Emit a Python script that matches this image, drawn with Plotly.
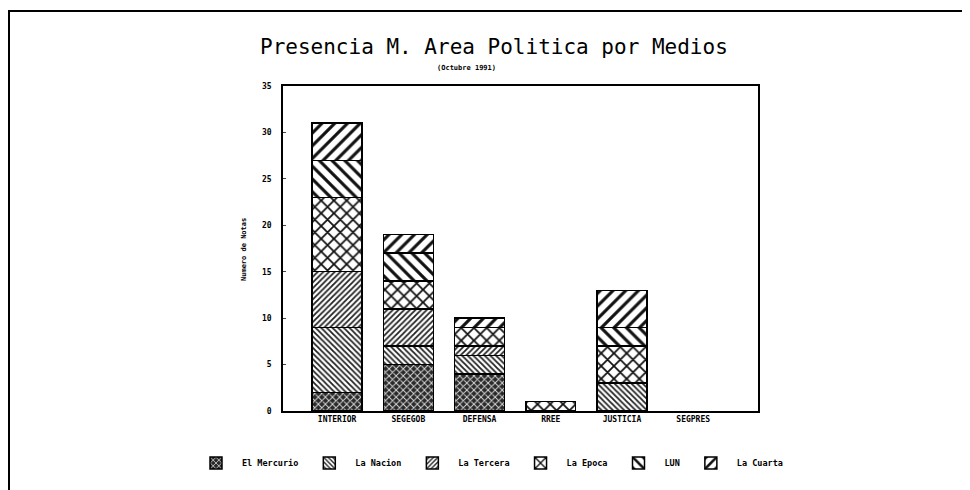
import plotly.graph_objects as go

categories = ["INTERIOR", "SEGEGOB", "DEFENSA", "RREE", "JUSTICIA", "SEGPRES"]
series_names = ["El Mercurio", "La Nacion", "La Tercera", "La Epoca", "LUN", "La Cuarta"]
el_mercurio = [2, 5, 4, 0, 0, 0]
la_nacion = [7, 2, 2, 0, 3, 0]
la_tercera = [6, 4, 1, 0, 0, 0]
la_epoca = [8, 3, 2, 1, 4, 0]
lun = [4, 3, 0, 0, 2, 0]
la_cuarta = [4, 2, 1, 0, 4, 0]
y_ticks = [0, 5, 10, 15, 20, 25, 30, 35]

values = [el_mercurio, la_nacion, la_tercera, la_epoca, lun, la_cuarta]
patterns = [
    dict(shape="x", size=5, solidity=0.35, fgcolor="#d8d8d8", bgcolor="#2a2a2a", fillmode="replace"),
    dict(shape="\\", size=4, solidity=0.45, fgcolor="#222", bgcolor="white", fillmode="replace"),
    dict(shape="/", size=4, solidity=0.45, fgcolor="#222", bgcolor="white", fillmode="replace"),
    dict(shape="x", size=9, solidity=0.35, fgcolor="#111", bgcolor="white", fillmode="replace"),
    dict(shape="\\", size=9, solidity=0.35, fgcolor="#111", bgcolor="white", fillmode="replace"),
    dict(shape="/", size=9, solidity=0.35, fgcolor="#111", bgcolor="white", fillmode="replace"),
]

FONT = "DejaVu Sans Mono"
OFF = 8  # page body margin
fig = go.Figure()
for name, vals, pat in zip(series_names, values, patterns):
    fig.add_trace(go.Bar(
        x=categories, y=[v if v else None for v in vals], name=name, width=0.7,
        marker=dict(color="white", line=dict(color="black", width=1.5), pattern=pat),
    ))

FW, FH = 962, 482
L, R, T, B = 283 - OFF, 758 - OFF, 86 - OFF, 411 - OFF
W, H = R - L, B - T

def px(x):
    return (x - OFF - L) / W

def py(y):
    return (B - (y - OFF)) / H

fig.update_layout(
    barmode="stack",
    width=FW, height=FH,
    margin=dict(l=L, r=FW - R, t=T, b=FH - B),
    paper_bgcolor="white", plot_bgcolor="white",
    font=dict(family=FONT, color="black", size=8),
    showlegend=True,
    legend=dict(orientation="h", x=px(190), xanchor="left", y=py(463), yanchor="middle",
                font=dict(family=FONT, size=8.5, weight="bold"), traceorder="normal",
                itemwidth=42, bgcolor="rgba(0,0,0,0)"),
    xaxis=dict(range=[-0.76, 5.91], showline=True, linecolor="black", linewidth=1.5,
               mirror=True, ticks="", tickfont=dict(family=FONT, size=8, weight="bold"),
               showgrid=False),
    yaxis=dict(range=[0, 35], tickvals=y_ticks, showline=True, linecolor="black", linewidth=1.5,
               mirror=True, ticks="inside", ticklen=3, tickfont=dict(family=FONT, size=8, weight="bold"),
               showgrid=False, zeroline=False, ticklabelstandoff=8),
    annotations=[
        dict(text="Presencia M. Area Politica por Medios", x=px(494), y=py(47), xref="paper", yref="paper",
             showarrow=False, font=dict(family=FONT, size=21), xanchor="center", yanchor="middle"),
        dict(text="(Octubre 1991)", x=px(466), y=py(68), xref="paper", yref="paper",
             showarrow=False, font=dict(family=FONT, size=7, weight="bold"), xanchor="center", yanchor="middle"),
        dict(text="Numero de Notas", x=px(244), y=py(250), xref="paper", yref="paper", textangle=-90,
             showarrow=False, font=dict(family=FONT, size=7, weight="bold"), xanchor="center", yanchor="middle"),
    ],
    shapes=[
        dict(type="line", xref="paper", yref="paper", x0=px(8), x1=px(970), y0=py(11), y1=py(11),
             line=dict(color="black", width=2)),
        dict(type="line", xref="paper", yref="paper", x0=px(9), x1=px(9), y0=py(11), y1=py(490),
             line=dict(color="black", width=2)),
    ],
)

fig.write_html("out.html")
